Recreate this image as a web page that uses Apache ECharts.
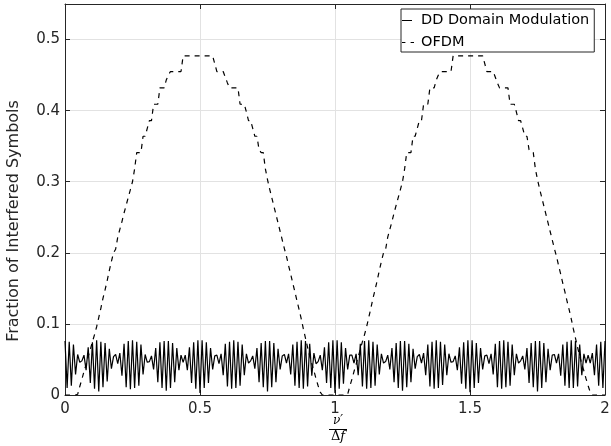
<!DOCTYPE html>
<html>
<head>
<meta charset="utf-8">
<script src="https://cdn.jsdelivr.net/npm/echarts@6/dist/echarts.min.js"></script>
<style>
  html, body { margin: 0; padding: 0; background: #fff; }
  #chart { width: 611px; height: 446px; }
</style>
</head>
<body>
<div id="chart"></div>
<script>
// Sampling step of the normalised Doppler axis (nu'/Delta f), 257 samples over [0, 2]
const xStep = 1 / 128;

// DD Domain Modulation: fraction of interfered symbols
const ddValues = [
  0.076, 0.010, 0.075, 0.013, 0.071, 0.029, 0.057, 0.046,
  0.048, 0.056, 0.035, 0.067, 0.017, 0.074, 0.009, 0.077, 0.005, 0.075, 0.011, 0.073, 0.019, 0.065, 0.037, 0.054,
  0.057, 0.044, 0.059, 0.027, 0.072, 0.011, 0.076, 0.008, 0.077, 0.010, 0.075, 0.013, 0.071, 0.029, 0.057, 0.046,
  0.047, 0.055, 0.036, 0.066, 0.018, 0.074, 0.010, 0.076, 0.006, 0.076, 0.010, 0.073, 0.018, 0.066, 0.035, 0.056,
  0.046, 0.056, 0.035, 0.067, 0.017, 0.074, 0.009, 0.077, 0.003, 0.077, 0.010, 0.074, 0.017, 0.066, 0.036, 0.055,
  0.056, 0.044, 0.058, 0.028, 0.072, 0.012, 0.075, 0.009, 0.077, 0.010, 0.075, 0.013, 0.071, 0.028, 0.058, 0.045,
  0.048, 0.055, 0.037, 0.066, 0.018, 0.073, 0.011, 0.076, 0.005, 0.076, 0.011, 0.073, 0.018, 0.065, 0.036, 0.055,
  0.057, 0.045, 0.058, 0.029, 0.071, 0.013, 0.075, 0.010, 0.077, 0.009, 0.076, 0.012, 0.072, 0.027, 0.059, 0.044,
  0.047, 0.056, 0.035, 0.067, 0.017, 0.074, 0.010, 0.077, 0.003, 0.077, 0.009, 0.074, 0.016, 0.066, 0.036, 0.056,
  0.056, 0.045, 0.058, 0.028, 0.072, 0.012, 0.076, 0.009, 0.077, 0.010, 0.075, 0.013, 0.071, 0.029, 0.058, 0.045,
  0.047, 0.056, 0.036, 0.066, 0.018, 0.073, 0.010, 0.076, 0.006, 0.076, 0.011, 0.072, 0.018, 0.065, 0.037, 0.054,
  0.057, 0.045, 0.059, 0.028, 0.071, 0.012, 0.075, 0.009, 0.077, 0.010, 0.075, 0.014, 0.071, 0.028, 0.058, 0.046,
  0.047, 0.055, 0.035, 0.067, 0.016, 0.074, 0.009, 0.077, 0.004, 0.077, 0.010, 0.073, 0.017, 0.066, 0.036, 0.055,
  0.056, 0.044, 0.058, 0.029, 0.072, 0.011, 0.076, 0.009, 0.077, 0.011, 0.075, 0.013, 0.071, 0.028, 0.058, 0.045,
  0.048, 0.055, 0.036, 0.066, 0.017, 0.073, 0.011, 0.076, 0.005, 0.076, 0.010, 0.073, 0.018, 0.065, 0.035, 0.056,
  0.057, 0.045, 0.058, 0.027, 0.071, 0.013, 0.075, 0.010, 0.077, 0.010, 0.076, 0.012, 0.071, 0.028, 0.058, 0.045,
  0.056, 0.045, 0.059, 0.028, 0.071, 0.013, 0.075, 0.010, 0.076
];

// OFDM: fraction of interfered symbols
const ofdmValues = [
  0, 0, 0, 0, 0, 0, 0.001, 0.012, 0.022, 0.033,
  0.043, 0.054, 0.064, 0.075, 0.085, 0.096, 0.109, 0.122, 0.136, 0.148,
  0.161, 0.175, 0.188, 0.2, 0.205, 0.222, 0.233, 0.244, 0.256, 0.267,
  0.278, 0.289, 0.3, 0.318, 0.341, 0.341, 0.341, 0.364, 0.364, 0.375,
  0.386, 0.386, 0.409, 0.409, 0.409, 0.432, 0.432, 0.432, 0.443, 0.45,
  0.455, 0.455, 0.455, 0.455, 0.455, 0.455, 0.477, 0.477, 0.477, 0.477,
  0.477, 0.477, 0.477, 0.477, 0.477, 0.477, 0.477, 0.477, 0.477, 0.477,
  0.477, 0.466, 0.455, 0.455, 0.455, 0.455, 0.447, 0.439, 0.432, 0.432,
  0.432, 0.432, 0.432, 0.409, 0.409, 0.409, 0.398, 0.386, 0.386, 0.375,
  0.364, 0.364, 0.345, 0.341, 0.341, 0.318, 0.303, 0.29, 0.278, 0.266,
  0.254, 0.242, 0.23, 0.218, 0.206, 0.195, 0.182, 0.17, 0.157, 0.145,
  0.132, 0.12, 0.107, 0.093, 0.08, 0.067, 0.055, 0.044, 0.034, 0.023,
  0.013, 0.004, 0, 0, 0, 0, 0, 0, 0,
  0, 0, 0, 0, 0, 0.001, 0.012, 0.022, 0.033,
  0.043, 0.054, 0.064, 0.075, 0.085, 0.096, 0.109, 0.122, 0.136, 0.148,
  0.161, 0.175, 0.188, 0.2, 0.205, 0.222, 0.233, 0.244, 0.256, 0.267,
  0.278, 0.289, 0.3, 0.318, 0.341, 0.341, 0.341, 0.364, 0.364, 0.375,
  0.386, 0.386, 0.409, 0.409, 0.409, 0.432, 0.432, 0.432, 0.443, 0.45,
  0.455, 0.455, 0.455, 0.455, 0.455, 0.455, 0.477, 0.477, 0.477, 0.477,
  0.477, 0.477, 0.477, 0.477, 0.477, 0.477, 0.477, 0.477, 0.477, 0.477,
  0.477, 0.466, 0.455, 0.455, 0.455, 0.455, 0.447, 0.439, 0.432, 0.432,
  0.432, 0.432, 0.432, 0.409, 0.409, 0.409, 0.398, 0.386, 0.386, 0.375,
  0.364, 0.364, 0.345, 0.341, 0.341, 0.318, 0.303, 0.29, 0.278, 0.266,
  0.254, 0.242, 0.23, 0.218, 0.206, 0.195, 0.182, 0.17, 0.157, 0.145,
  0.132, 0.12, 0.107, 0.093, 0.08, 0.067, 0.055, 0.044, 0.034, 0.023,
  0.013, 0.004, 0, 0, 0, 0, 0, 0, 0
];

const seriesNames = ['DD Domain Modulation', 'OFDM'];
const xTickValues = [0, 0.5, 1, 1.5, 2];
const xTickLabels = ['0', '0.5', '1', '1.5', '2'];
const yTickValues = [0, 0.1, 0.2, 0.3, 0.4, 0.5];
const yTickLabels = ['0', '0.1', '0.2', '0.3', '0.4', '0.5'];
const yLabel = 'Fraction of Interfered Symbols';

const FONT = '"DejaVu Sans", "Liberation Sans", sans-serif';
const SERIF = '"DejaVu Serif", "Liberation Serif", serif';
const AX = '#262626';

// legend glyphs: a short solid stroke and a short "- -" stroke (tiny corner marks fix the 12x14 box)
const ICON_SOLID = 'path://M0,0L0.01,0L0,0.01Z M11.99,14L12,14L12,13.99Z M0,6.4L10,6.4L10,7.6L0,7.6Z';
const ICON_DASH = 'path://M0,0L0.01,0L0,0.01Z M11.99,14L12,14L12,13.99Z M0,6.4L3.4,6.4L3.4,7.6L0,7.6Z M8.6,6.4L12,6.4L12,7.6L8.6,7.6Z';

function labelFor(values, labels) {
  return function (v) {
    for (let k = 0; k < values.length; k++) {
      if (Math.abs(values[k] - v) < 1e-9) return labels[k];
    }
    return '';
  };
}

const ddData = ddValues.map((v, i) => [i * xStep, v]);
const ofdmData = ofdmValues.map((v, i) => [i * xStep, v]);

const chart = echarts.init(document.getElementById('chart'), null, { renderer: 'canvas' });

const frameAxisCommon = {
  axisLine: { show: true, onZero: false, lineStyle: { color: AX, width: 1 } },
  axisTick: { show: true, inside: true, length: 5, lineStyle: { color: AX, width: 1 } }
};

chart.setOption({
  animation: false,
  backgroundColor: '#ffffff',
  grid: { left: 65, right: 6, top: 4, bottom: 51, containLabel: false, outerBoundsMode: 'none' },
  xAxis: [
    Object.assign({
      type: 'value', min: 0, max: 2, interval: 0.5, position: 'bottom',
      axisLabel: { color: AX, fontSize: 15, fontFamily: FONT, margin: 7, formatter: labelFor(xTickValues, xTickLabels) },
      splitLine: { show: true, lineStyle: { color: '#e2e2e2', width: 1 } }
    }, frameAxisCommon),
    Object.assign({
      type: 'value', min: 0, max: 2, interval: 0.5, position: 'top',
      axisLabel: { show: false }, splitLine: { show: false }
    }, frameAxisCommon)
  ],
  yAxis: [
    Object.assign({
      type: 'value', min: 0, max: 0.55, interval: 0.1, position: 'left',
      axisLabel: { color: AX, fontSize: 15, fontFamily: FONT, margin: 5, formatter: labelFor(yTickValues, yTickLabels) },
      splitLine: { show: true, lineStyle: { color: '#e2e2e2', width: 1 } }
    }, frameAxisCommon),
    Object.assign({
      type: 'value', min: 0, max: 0.55, interval: 0.1, position: 'right',
      axisLabel: { show: false }, splitLine: { show: false }
    }, frameAxisCommon)
  ],
  legend: {
    orient: 'vertical', left: 401, top: 9,
    backgroundColor: '#ffffff', borderColor: AX, borderWidth: 1, borderRadius: 0,
    padding: [4, 5, 2, 1], itemWidth: 12, itemHeight: 14, itemGap: 7,
    textStyle: { fontSize: 14.5, fontFamily: FONT, color: '#000', padding: [0, 0, 0, 2] },
    data: [
      { name: seriesNames[0], icon: ICON_SOLID, itemStyle: { color: '#000' } },
      { name: seriesNames[1], icon: ICON_DASH, itemStyle: { color: '#000' } }
    ]
  },
  series: [
    {
      name: seriesNames[0], type: 'line', xAxisIndex: 0, yAxisIndex: 0,
      data: ddData, symbol: 'none', showSymbol: false, smooth: false,
      lineStyle: { color: '#000', width: 1.2 }, itemStyle: { color: '#000' }, z: 3
    },
    {
      name: seriesNames[1], type: 'line', xAxisIndex: 0, yAxisIndex: 0,
      data: ofdmData, symbol: 'none', showSymbol: false, smooth: false,
      lineStyle: { color: '#000', width: 1.2, type: [5, 5] }, itemStyle: { color: '#000' }, z: 3
    }
  ],
  graphic: [
    {
      type: 'text', x: 14, y: 221, rotation: Math.PI / 2,
      style: { text: yLabel, fontSize: 16, fontFamily: FONT, fill: AX, align: 'center', verticalAlign: 'middle' }
    },
    {
      type: 'text', x: 338, y: 421,
      style: { text: 'ν′', fontSize: 12, fontStyle: 'italic', fontFamily: SERIF, fill: '#000', align: 'center', verticalAlign: 'middle' }
    },
    {
      type: 'line', shape: { x1: 329, y1: 429.5, x2: 347, y2: 429.5 },
      style: { stroke: '#000', lineWidth: 1 }
    },
    {
      type: 'text', x: 338, y: 437,
      style: {
        text: '{a|Δ}{b|f}', fill: '#000', align: 'center', verticalAlign: 'middle',
        rich: {
          a: { fontSize: 13, fontFamily: SERIF, fontStyle: 'normal', fill: '#000' },
          b: { fontSize: 13, fontFamily: SERIF, fontStyle: 'italic', fill: '#000' }
        }
      }
    }
  ]
});
</script>
</body>
</html>
